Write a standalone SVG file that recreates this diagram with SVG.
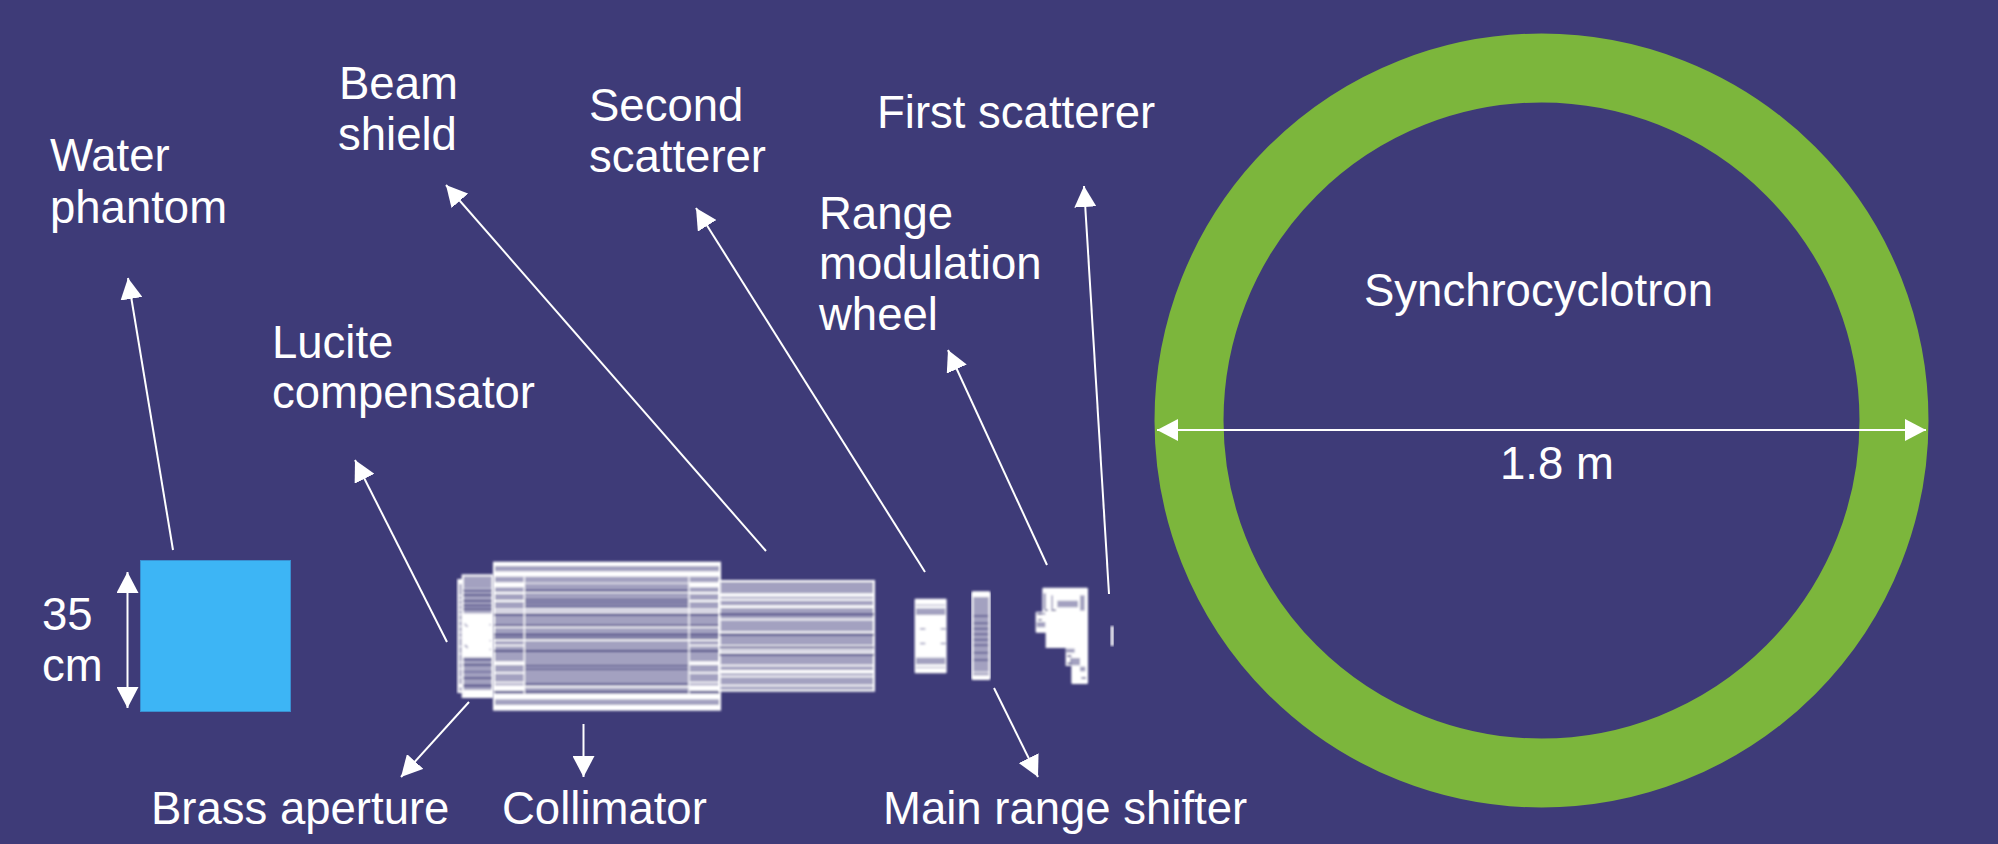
<svg xmlns="http://www.w3.org/2000/svg" width="1998" height="844" viewBox="0 0 1998 844">
<style>
text{font-family:"Liberation Sans",Arial,sans-serif;font-size:45.500px;fill:#fff}
.lead{stroke:#fff;stroke-width:2;fill:none;marker-end:url(#head)}
.dim{stroke:#fff;stroke-width:2;fill:none;marker-start:url(#head);marker-end:url(#head)}
.body{fill:#a3a1c0;stroke:#fff;stroke-width:6}
.w{fill:#fff}
.n{fill:#4d4a86}
.p{fill:#a3a1c0}
.soft{filter:url(#soften)}
</style>
<defs>
<marker id="head" markerUnits="userSpaceOnUse" markerWidth="22" markerHeight="22" refX="21" refY="11" orient="auto-start-reverse">
<path d="M0 0L21 11L0 22Z" fill="#fff"/>
</marker>
<filter id="soften" x="-5%" y="-5%" width="110%" height="110%"><feGaussianBlur stdDeviation="2.500"/></filter>
</defs>
<rect width="1998" height="844" fill="#3e3b78"/>

<g id="synchrocyclotron">
<circle cx="1541.500" cy="420.500" r="352.500" fill="none" stroke="#7cb63c" stroke-width="69"/>
<text x="1364" y="306">Synchrocyclotron</text>
<text x="1500" y="479">1.8 m</text>
</g>

<g id="water-phantom">
<rect x="140.500" y="560.500" width="150" height="151" fill="#3db5f5" stroke="#3a8fd0" stroke-width="1"/>
<text x="50" y="171">Water</text>
<text x="50" y="223">phantom</text>
<text x="42" y="630">35</text>
<text x="42" y="681">cm</text>
</g>

<!-- Nozzle parts are plotted at triple scale, local coordinates -->
<g id="brass-aperture" class="soft" transform="translate(430 540) scale(.33333)">
<rect class="body" x="85" y="120" width="15" height="336"/>
<rect class="w" x="87" y="122" width="10" height="10"/>
<rect class="w" x="87" y="432" width="10" height="10"/>
<rect class="w" x="86" y="165" width="12" height="3"/><rect class="w" x="86" y="178" width="12" height="3"/><rect class="w" x="86" y="193" width="12" height="3"/><rect class="w" x="86" y="208" width="12" height="3"/><rect class="w" x="86" y="222" width="12" height="3"/><rect class="w" x="86" y="240" width="12" height="3"/><rect class="w" x="86" y="258" width="12" height="3"/><rect class="w" x="86" y="275" width="12" height="3"/><rect class="w" x="86" y="292" width="12" height="3"/><rect class="w" x="86" y="318" width="12" height="3"/><rect class="w" x="86" y="340" width="12" height="3"/><rect class="w" x="86" y="365" width="12" height="3"/><rect class="w" x="86" y="385" width="12" height="3"/><rect class="w" x="86" y="410" width="12" height="3"/>
<rect class="body" x="98" y="106" width="90" height="365"/>
<rect class="n" x="100" y="148" width="86" height="6"/><rect class="n" x="100" y="163" width="86" height="5"/><rect class="n" x="100" y="180" width="86" height="5"/><rect class="n" x="100" y="194" width="86" height="5"/><rect class="n" x="100" y="205" width="86" height="5"/>
<rect class="n" x="100" y="356" width="86" height="5"/><rect class="n" x="100" y="372" width="86" height="5"/><rect class="n" x="100" y="394" width="86" height="3"/><rect class="n" x="100" y="412" width="86" height="5"/><rect class="n" x="100" y="434" width="86" height="6"/>
<rect class="w" x="100" y="450" width="86" height="18"/><rect class="w" x="100" y="146" width="86" height="2"/>
<rect class="w" x="98" y="220" width="90" height="132"/>
<path d="M104 250h4v5h5v6h-5v-4h-4ZM104 314h6v5h4v6h-5v-4h-5ZM178 252h5v4h-5ZM179 300h4v4h-4ZM179 326h4v5h-4Z" class="p"/>
</g>

<g id="collimator" class="soft" transform="translate(430 540) scale(.33333)">
<rect class="body" x="192" y="68" width="678" height="441"/>
<rect class="w" x="192" y="68" width="678" height="10"/><rect class="w" x="192" y="94" width="678" height="16"/><rect class="w" x="192" y="462" width="678" height="16"/><rect class="w" x="192" y="495" width="678" height="14"/>
<rect class="w" x="192" y="127" width="90" height="15"/><rect class="w" x="778" y="127" width="90" height="15"/>
<rect class="w" x="192" y="158" width="90" height="4"/><rect class="w" x="778" y="158" width="90" height="4"/>
<rect class="w" x="192" y="180" width="90" height="6"/><rect class="w" x="778" y="180" width="90" height="6"/>
<rect class="w" x="192" y="314" width="90" height="5"/><rect class="w" x="778" y="314" width="90" height="5"/>
<rect class="w" x="192" y="364" width="90" height="11"/><rect class="w" x="778" y="364" width="90" height="11"/>
<rect class="w" x="192" y="396" width="90" height="5"/><rect class="w" x="778" y="396" width="90" height="5"/>
<rect class="w" x="192" y="425" width="90" height="5"/><rect class="w" x="778" y="425" width="90" height="5"/>
<rect class="w" x="192" y="436" width="90" height="16"/><rect class="w" x="778" y="436" width="90" height="16"/>
<rect class="w" x="192" y="206" width="676" height="5"/><rect class="w" x="192" y="215" width="676" height="4"/>
<rect class="w" x="192" y="298" width="676" height="5"/><rect class="w" x="192" y="128" width="676" height="3"/><rect class="w" x="192" y="156" width="676" height="3"/>
<rect class="w" x="192" y="260" width="676" height="4"/><rect class="w" x="192" y="438" width="676" height="5"/>
<rect class="n" x="192" y="222" width="676" height="5"/><rect class="n" x="192" y="254" width="676" height="4"/><rect class="n" x="192" y="281" width="676" height="6"/><rect class="n" x="192" y="292" width="676" height="4"/><rect class="n" x="192" y="330" width="676" height="6"/>
<rect class="n" x="192" y="453" width="676" height="5"/>
<rect class="n" x="285" y="149" width="490" height="5"/><rect class="n" x="285" y="177" width="490" height="4"/><rect class="n" x="285" y="186" width="490" height="4"/><rect class="n" x="285" y="196" width="490" height="4"/>
<rect class="n" x="285" y="375" width="490" height="4"/><rect class="n" x="285" y="386" width="490" height="4"/><rect class="n" x="285" y="430" width="490" height="4"/>
<rect class="w" x="281" y="110" width="4" height="352"/><rect class="w" x="775" y="110" width="4" height="352"/>
</g>

<g id="beam-shield" class="soft" transform="translate(430 540) scale(.33333)">
<rect class="body" x="869" y="123" width="463" height="329"/>
<rect class="w" x="869" y="160" width="463" height="10"/><rect class="w" x="869" y="176" width="463" height="6"/><rect class="w" x="869" y="196" width="463" height="8"/>
<rect class="w" x="869" y="236" width="463" height="5"/><rect class="w" x="869" y="274" width="463" height="5"/><rect class="w" x="869" y="315" width="463" height="4"/><rect class="w" x="869" y="325" width="463" height="5"/><rect class="w" x="869" y="334" width="463" height="6"/>
<rect class="w" x="869" y="374" width="463" height="5"/><rect class="w" x="869" y="390" width="463" height="10"/><rect class="w" x="869" y="407" width="463" height="5"/><rect class="w" x="869" y="434" width="463" height="5"/>
<rect class="n" x="869" y="220" width="463" height="6"/><rect class="n" x="869" y="282" width="463" height="5"/><rect class="n" x="869" y="320" width="463" height="5"/><rect class="n" x="869" y="342" width="463" height="5"/>
</g>

<g id="second-scatterer" class="soft" transform="translate(880 560) scale(.33333)">
<rect x="104" y="116" width="96" height="224" rx="3" class="w"/>
<rect class="p" x="108" y="145" width="88" height="20"/><rect class="p" x="108" y="293" width="88" height="20"/>
<rect class="p" x="108" y="134" width="88" height="3"/><rect class="p" x="108" y="321" width="88" height="3"/>
<rect class="p" x="120" y="204" width="16" height="5"/><rect class="p" x="182" y="204" width="16" height="5"/><rect class="p" x="120" y="248" width="16" height="5"/><rect class="p" x="182" y="248" width="16" height="5"/>
</g>

<g id="main-range-shifter" class="soft" transform="translate(880 560) scale(.33333)">
<rect x="277" y="97" width="52" height="260" rx="2" class="body"/>
<rect class="w" x="278" y="98" width="50" height="13"/><rect class="w" x="278" y="335" width="50" height="3"/><rect class="w" x="278" y="346" width="50" height="10"/>
<rect class="n" x="281" y="166" width="44" height="4"/><rect class="n" x="281" y="188" width="44" height="4"/><rect class="n" x="281" y="204" width="44" height="4"/><rect class="n" x="281" y="221" width="44" height="4"/><rect class="n" x="281" y="237" width="44" height="4"/><rect class="n" x="281" y="254" width="44" height="4"/><rect class="n" x="281" y="276" width="44" height="4"/><rect class="n" x="281" y="298" width="44" height="4"/>
</g>

<g id="range-modulation-wheel" class="soft" transform="translate(880 560) scale(.33333)">
<path class="w" d="M490 83H620Q624 83 624 87V368Q624 372 620 372H578Q574 372 574 368V318H557V264H497V218H470Q467 218 467 215V158Q467 155 470 155H487V87Q487 83 490 83Z"/>
<rect class="p" x="532" y="122" width="62" height="20"/>
<rect class="p" x="490" y="100" width="8" height="48"/><rect class="p" x="514" y="106" width="5" height="42"/><rect class="p" x="600" y="106" width="14" height="46"/>
<rect class="p" x="470" y="158" width="26" height="6"/><rect class="p" x="470" y="186" width="26" height="16"/>
<rect class="n" x="474" y="160" width="12" height="4"/><rect class="n" x="474" y="177" width="12" height="4"/><rect class="n" x="494" y="149" width="10" height="4"/><rect class="n" x="514" y="149" width="14" height="4"/>
<rect class="p" x="558" y="266" width="26" height="12"/><rect class="p" x="570" y="294" width="30" height="22"/>
<rect class="n" x="562" y="286" width="12" height="5"/><rect class="n" x="562" y="308" width="12" height="5"/><rect class="n" x="604" y="352" width="14" height="4"/>
<rect class="p" x="600" y="320" width="16" height="14"/>
</g>

<g id="first-scatterer" class="soft" transform="translate(880 560) scale(.33333)">
<rect x="692" y="198" width="9" height="60" rx="2" class="w"/>
</g>

<g id="connectors">
<path class="lead" d="M173 550L128 278"/>
<path class="lead" d="M766 551L446 185"/>
<path class="lead" d="M925 572L696 208"/>
<path class="lead" d="M1047 565L948 350"/>
<path class="lead" d="M1109 594L1084 186"/>
<path class="lead" d="M447 642L355 460"/>
<path class="lead" d="M469 702L401 777"/>
<path class="lead" d="M583.500 724V777"/>
<path class="lead" d="M994 688L1038 777"/>
<path class="dim" d="M127.500 572V708"/>
<path class="dim" d="M1157 430H1926"/>
</g>

<g id="labels">
<text x="339" y="99">Beam</text>
<text x="338" y="150">shield</text>
<text x="589" y="121">Second</text>
<text x="589" y="172">scatterer</text>
<text x="877" y="128">First scatterer</text>
<text x="819" y="229">Range</text>
<text x="819" y="279">modulation</text>
<text x="819" y="330">wheel</text>
<text x="272" y="358">Lucite</text>
<text x="272" y="408">compensator</text>
<text x="151" y="824">Brass aperture</text>
<text x="502" y="824">Collimator</text>
<text x="883" y="824">Main range shifter</text>
</g>
</svg>
